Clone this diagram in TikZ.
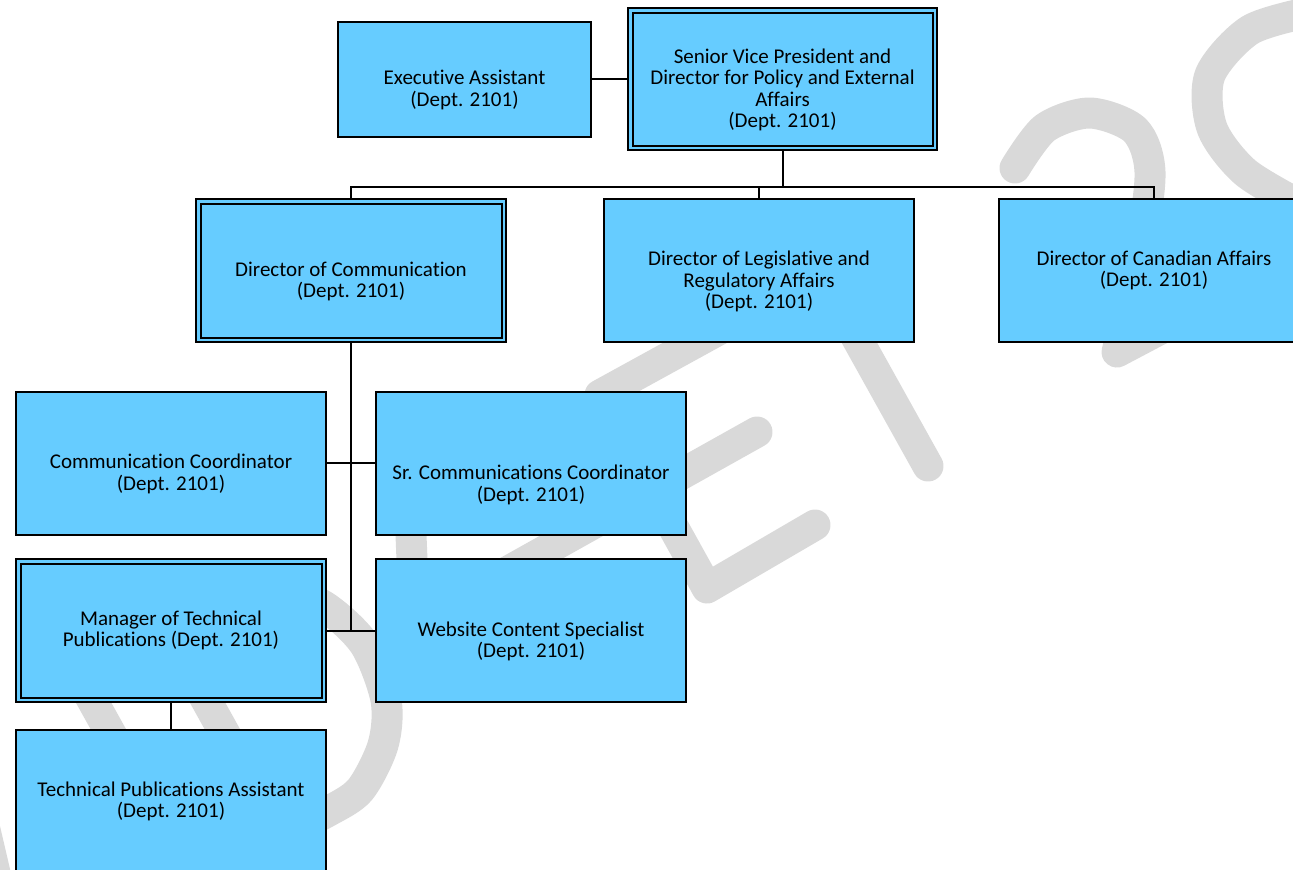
\documentclass[tikz,border=0pt]{standalone}
\usepackage{fontspec}
\setmainfont{Carlito}[Ligatures={NoCommon}]
\usepackage{tikz}
\definecolor{unitblue}{RGB}{102,204,255}
\definecolor{markgray}{RGB}{217,217,217}
\newcommand{\chartfont}{\fontsize{21}{21.5}\selectfont}
\tikzset{
    unit/.style={rectangle, draw=black, fill=unitblue, line width=2pt,
    	inner sep=0pt, minimum width=310pt, minimum height=143pt,
    	align=center, font=\chartfont}
}
\tikzset{
    headunit/.style={unit, double=unitblue, double distance=2.5pt,
    	minimum width=305.5pt, minimum height=138.5pt}
}
\tikzset{
    link/.style={line width=2pt},
    wmark/.style={draw=markgray, line width=31pt, line cap=round,
    	line join=round}
}
\pgfdeclarelayer{watermark}
\pgfdeclarelayer{background}
\pgfsetlayers{watermark,background,main}

\begin{document}
\begin{tikzpicture}[x=1pt, y=-1pt]
  \useasboundingbox (0,0) rectangle (1293,870);

  \node (exec) [unit, minimum width=253pt, minimum height=115pt] at (464.5, 79) {\strut\\Executive Assistant\\(Dept. 2101)};
  \node (svp) [headunit, minimum width=304.5pt, minimum height=137.5pt] at (782.5, 79) {\strut\\Senior Vice President and\\Director for Policy and External\\Affairs\\(Dept. 2101)};

  \node (comm) [headunit] at (351, 270.5) {\strut\\Director of Communication\\(Dept. 2101)};
  \node (legis) [unit] at (759, 270.5) {\strut\\Director of Legislative and\\Regulatory Affairs\\(Dept. 2101)};
  \node (canada) [unit] at (1154, 270.5) {Director of Canadian Affairs\\(Dept. 2101)};

  \node (coord) [unit] at (171, 463) {\strut\\Communication Coordinator\\(Dept. 2101)};
  \node (srcoord) [unit] at (531, 463) {\strut\\\strut\\Sr. Communications Coordinator\\(Dept. 2101)};
  \node (techmgr) [headunit] at (171, 630.5) {Manager of Technical\\Publications (Dept. 2101)};
  \node (web) [unit] at (531, 630.5) {\strut\\Website Content Specialist\\(Dept. 2101)};
  \node (techasst) [unit] at (171, 801.5) {Technical Publications Assistant\\(Dept. 2101)};

  \coordinate (bus) at (782.5, 187);

  \begin{pgfonlayer}{background}
    \draw [link] (exec) -- (svp);
    \draw [link] (svp) -- (svp |- bus);
    \draw [link] (comm) |- (bus) -| (canada);
    \draw [link] (legis) -- (legis |- bus);
    \draw [link] (comm) -- (comm |- techmgr);
    \draw [link] (coord) -- (srcoord);
    \draw [link] (techmgr) -- (web);
    \draw [link] (techmgr) -- (techasst);
  \end{pgfonlayer}

  % watermark behind the chart
  \begin{pgfonlayer}{watermark}
    \draw [wmark] (-22,800) -- (-1,890);
    \draw [wmark] (81,680) -- (121,752);
    \draw [wmark] (195,680) -- (235,752);
    \draw [wmark] plot[smooth] coordinates {(280,585) (327,608) (365,645) (386,700) (383,745) (360,790) (327,812) (280,835)};
    \draw [wmark] (410,510) -- (413,585);
    \draw [wmark] (480,587) -- (757,432);
    \draw [wmark] (722,328) -- (600,395) -- (707,588) -- (815,525);
    \draw [wmark] (830,290) -- (928,466);
    \draw [wmark] plot[smooth] coordinates {(1015,168) (1045,128) (1090,113) (1135,130) (1150,172) (1140,250) (1117,352)} -- (1240,287);
    \draw [wmark] plot[smooth] coordinates {(1310,12) (1250,30) (1210,75) (1212,128) (1245,172) (1300,205)};
  \end{pgfonlayer}
\end{tikzpicture}
\end{document}
